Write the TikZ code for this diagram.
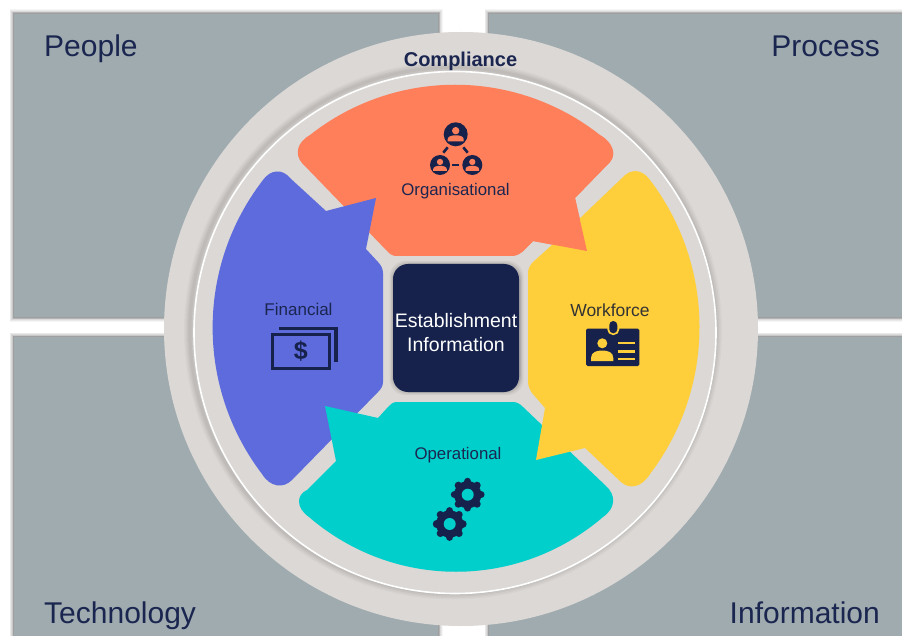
\documentclass[tikz,border=0pt]{standalone}
\usepackage{fontspec}
\setmainfont{Liberation Sans}
\definecolor{panelc}{HTML}{9FABAF}
\definecolor{navyc}{HTML}{16224B}
\definecolor{textc}{HTML}{1B2650}
\definecolor{diskc}{HTML}{DBD8D5}
\definecolor{orangec}{HTML}{FF7F5B}
\definecolor{bluec}{HTML}{5D6BDD}
\definecolor{yellowc}{HTML}{FFCF3B}
\definecolor{tealc}{HTML}{00CFCB}
\newcommand{\fsz}[1]{\fontsize{#1}{#1}\selectfont}
\newcommand{\orangeshape}{(302,163) .. controls (295,155) and (296,143) .. (310,135)
  .. controls (395,68) and (515,68) .. (600,135)
  .. controls (614,143) and (616,155) .. (610,162)
  -- (575,198) -- (587,251) -- (533,241) -- (522,252)
  .. controls (518,255) and (515,256) .. (510,256)
  -- (397,256) .. controls (393,256) and (391,255) .. (388,252) -- cycle}
\newcommand{\panelbox}[4]{%
  \foreach \w/\o in {9/.05,7.5/.07,6/.09,4.5/.12,3/.16,1.5/.2}{\draw[black!70,line width=\w pt,opacity=\o] (#1,#2) rectangle (#3,#4);}
  \fill[panelc] (#1,#2) rectangle (#3,#4);}
\newcommand{\personglyph}[3]{% centre x, centre y, scale, orange on navy
  \fill[orangec] (#1,#2-3.6*#3) circle [radius=3.7pt*#3];
  \fill[orangec] (#1-8*#3,#2+7*#3) -- (#1-8*#3,#2+5*#3) .. controls (#1-8*#3,#2+2*#3) and (#1-4*#3,#2+1*#3) .. (#1,#2+1*#3)
     .. controls (#1+4*#3,#2+1*#3) and (#1+8*#3,#2+2*#3) .. (#1+8*#3,#2+5*#3) -- (#1+8*#3,#2+7*#3) -- cycle;}
\newcommand{\gearglyph}[2]{%
  \fill[navyc] (#1,#2) circle [radius=13.6pt];
  \foreach \a in {0,45,...,315}{\draw[navyc,line width=7.4pt,line cap=round] ($(#1,#2)+(\a:13pt)$) -- ($(#1,#2)+(\a:13.2pt)$);}
  \fill[tealc] (#1,#2) circle [radius=6pt];}
\usetikzlibrary{calc}
\tikzset{
  title/.style={text=textc,font=\fsz{30},inner sep=0pt},
  lab/.style={text=textc,font=\fsz{16.8},inner sep=0pt},
  sector/.style={line join=round}
}
\begin{document}
\begin{tikzpicture}[x=1pt,y=-1pt]
\useasboundingbox (0,0) rectangle (902,636);
\fill[white] (0,0) rectangle (902,636);
% panels
\panelbox{14}{14}{438}{317}
\panelbox{489}{14}{925}{317}
\panelbox{14}{337}{438}{660}
\panelbox{489}{337}{925}{660}
% disk
\fill[diskc] (461,329) circle [radius=297pt];
\foreach \w/\o in {12/.025,9/.03,6/.035,3/.04}{\draw[black,line width=\w pt,opacity=\o] (453,330.5) circle [radius=263pt];}
\fill[diskc] (455,332.5) circle [radius=261pt];
\draw[white,line width=1.6pt] (455,332.5) circle [radius=261pt];
% sectors (each tip overlaps its neighbour)
\fill[orangec,sector] \orangeshape;
\fill[bluec,sector] (290,178) -- (326,211) -- (376,198) -- (366,249) -- (378,262)
  .. controls (381,265) and (383,269) .. (383,273) -- (383,382)
  .. controls (383,386) and (381,389) .. (378,392) -- (292,480)
  .. controls (283,489) and (270,487) .. (262,474)
  .. controls (196,387) and (196,267) .. (263,180)
  .. controls (270,170) and (282,168) .. (290,178) -- cycle;
\fill[tealc,sector] (397,402) -- (513,402)
  .. controls (517,402) and (520,404) .. (523,407) -- (606,486)
  .. controls (616,495) and (616,508) .. (603,517)
  .. controls (518,590) and (394,590) .. (309,517)
  .. controls (296,508) and (296,495) .. (307,490)
  -- (336,461) -- (325,406) -- (378,418) -- (388,407)
  .. controls (391,404) and (393,402) .. (397,402) -- cycle;
\fill[yellowc,sector] (622,178) -- (552,245) -- (533,262)
  .. controls (530,265) and (528,269) .. (528,273) -- (528,382)
  .. controls (528,386) and (530,390) .. (532,393) -- (545,408) -- (536,460) -- (585,448) -- (621,482)
  .. controls (630,490) and (642,487) .. (650,474)
  .. controls (716,387) and (716,267) .. (650,180)
  .. controls (642,169) and (631,168) .. (622,178) -- cycle;
\begin{scope}
  \clip (480,150) rectangle (620,270);
  \fill[orangec,sector] \orangeshape;
\end{scope}
% centre
\foreach \s/\o in {134/.05,131/.07,128.5/.09}{\fill[black,opacity=\o,rounded corners=16pt] (456-\s/2+.5,328-\s/2) rectangle (456+\s/2+.5,328+\s/2);}
\node[fill=navyc,rounded corners=15pt,minimum width=126pt,minimum height=128pt,inner sep=0pt] (centre) at (456,328) {};
\node[text=white,inner sep=0pt,font=\fsz{19.5}] (estab) at (456,321) {Establishment};
\node[text=white,inner sep=0pt,font=\fsz{19.5}] (info) at (456,345) {Information};
% titles
\node[title,anchor=base west] (people) at (44,57) {People};
\node[title,anchor=base east] (process) at (880,57) {Process};
\node[title,anchor=base west] (technology) at (44,623) {Technology};
\node[title,anchor=base east] (information) at (880,623) {Information};
\node[text=textc,inner sep=0pt,font=\fsz{20}\bfseries] (compliance) at (460.5,61) {Compliance};
% sector labels
\node[lab] (organisational) at (455.5,191) {Organisational};
\node[lab,font=\fsz{17}] (financial) at (298.5,309) {Financial};
\node[lab,text=black!80,font=\fsz{17.5}] (workforce) at (610,310) {Workforce};
\node[lab] (operational) at (458,455.5) {Operational};
% organisational icon
\fill[navyc] (455.7,134.3) circle [radius=12pt];
\fill[navyc] (440,165) circle [radius=10pt];
\fill[navyc] (472.3,165) circle [radius=10pt];
\personglyph{455.7}{134.3}{1}
\personglyph{440}{165}{.85}
\personglyph{472.3}{165}{.85}
\draw[navyc,line width=2.6pt] (443.3,152.7) -- (447.7,147.3);
\draw[navyc,line width=2.6pt] (463.3,147.3) -- (467.7,152.7);
\draw[navyc,line width=2.6pt] (452.3,165) -- (459.3,165);
% financial icon
\draw[navyc,line width=3.3pt] (279.3,328.3) -- (336,328.3) -- (336,361.7);
\draw[navyc,line width=3.3pt,fill=bluec] (272.7,334.5) rectangle (329.5,368.5);
\node[text=navyc,inner sep=0pt,font=\fsz{25}\bfseries] (dollar) at (300.7,351) {\$};
% workforce icon
\fill[navyc,rounded corners=1.5pt] (586,328.7) rectangle (639.3,366);
\fill[yellowc,rounded corners=5.5pt] (607.3,319) rectangle (619.3,335);
\fill[navyc,rounded corners=4pt] (609.3,321) rectangle (617.3,333.3);
\fill[yellowc] (602.3,343.3) circle [radius=5pt];
\fill[yellowc] (591,361) -- (591,358) .. controls (591,352) and (597,350.5) .. (602.2,350.5)
   .. controls (607.5,350.5) and (613.3,352) .. (613.3,358) -- (613.3,361) -- cycle;
\draw[yellowc,line width=2.3pt] (618.3,343.3) -- (635,343.3);
\draw[yellowc,line width=2.3pt] (618.3,351.5) -- (635,351.5);
\draw[yellowc,line width=2.3pt] (618.3,359.3) -- (635,359.3);
% gears
\gearglyph{467.7}{494.7}
\gearglyph{449.7}{524}
\end{tikzpicture}
\end{document}
